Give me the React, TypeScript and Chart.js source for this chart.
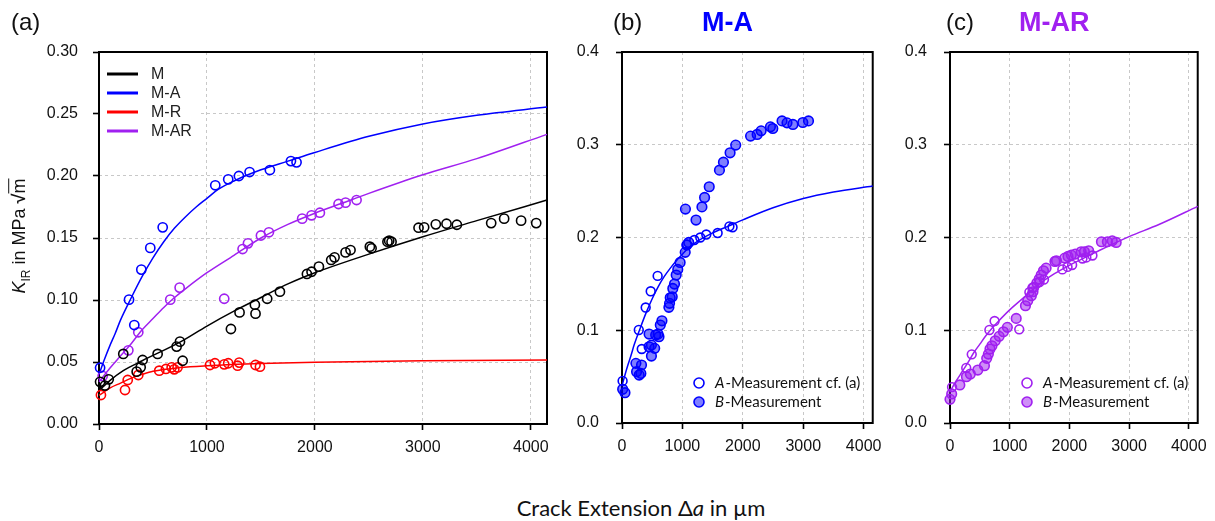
import React, { useEffect, useRef } from "react";
import { Chart, registerables } from "chart.js";
Chart.register(...registerables);

type Pt = [number, number];

// ---------- axes ----------
const X_MAX = 4150;
const X_TICKS = [0, 1000, 2000, 3000, 4000];
const Y_TICKS_A = [0, 0.05, 0.1, 0.15, 0.2, 0.25, 0.3];
const Y_LABELS_A = ["0.00", "0.05", "0.10", "0.15", "0.20", "0.25", "0.30"];
const Y_TICKS_BC = [0, 0.1, 0.2, 0.3, 0.4];
const Y_LABELS_BC = ["0.0", "0.1", "0.2", "0.3", "0.4"];

// ---------- legend / titles ----------
const SERIES_NAMES = ["M", "M-A", "M-R", "M-AR"];
const LEGEND_BC = [
  ["A", "-Measurement cf. (a)"],
  ["B", "-Measurement"],
];

// ---------- A-measurements (panel a) ----------
const M_MEAS: Pt[] = [
  [10, 0.034], [55, 0.031], [90, 0.036], [225, 0.0565], [349, 0.0422], [386, 0.0457],
  [404, 0.0516], [543, 0.0565], [719, 0.0624], [750, 0.0664], [775, 0.051], [1222, 0.0766],
  [1302, 0.09], [1444, 0.0962], [1450, 0.089], [1558, 0.101], [1676, 0.1067], [1926, 0.121],
  [1969, 0.1228], [2037, 0.1269], [2151, 0.1323], [2182, 0.1344], [2284, 0.1384], [2330, 0.1403],
  [2509, 0.143], [2525, 0.1417], [2672, 0.147], [2688, 0.1478], [2710, 0.147], [2960, 0.1583],
  [3012, 0.1586], [3120, 0.161], [3219, 0.1615], [3315, 0.1607], [3633, 0.162], [3753, 0.1656],
  [3910, 0.164], [4050, 0.162],
];
const MA_MEAS: Pt[] = [
  [10, 0.0454], [278, 0.1003], [327, 0.0798], [392, 0.1245], [475, 0.142], [590, 0.1586],
  [1077, 0.1925], [1197, 0.1973], [1296, 0.2], [1395, 0.2032], [1583, 0.2048], [1778, 0.212],
  [1830, 0.211],
];
const MR_MEAS: Pt[] = [
  [18, 0.0234], [241, 0.0274], [266, 0.0355], [364, 0.0395], [558, 0.043], [620, 0.0444],
  [673, 0.0457], [697, 0.0441], [728, 0.0457], [1028, 0.0476], [1074, 0.049], [1160, 0.0481],
  [1197, 0.049], [1284, 0.047], [1299, 0.0495], [1450, 0.0476], [1491, 0.0462],
];
const MAR_MEAS: Pt[] = [
  [34, 0.0387], [272, 0.0594], [364, 0.074], [660, 0.1003], [747, 0.11], [1160, 0.101],
  [1330, 0.1411], [1380, 0.1457], [1500, 0.152], [1574, 0.1546], [1882, 0.1656], [1969, 0.1683],
  [2046, 0.1704], [2219, 0.1774], [2284, 0.1785], [2386, 0.1806],
];

// ---------- B-measurements ----------
const MA_B: Pt[] = [
  [11, 0.0363], [49, 0.0327], [230, 0.0643], [241, 0.0553], [284, 0.0517], [312, 0.0535],
  [323, 0.0625], [448, 0.0822], [487, 0.0722], [541, 0.0805], [557, 0.0948], [448, 0.0959],
  [487, 0.084], [612, 0.093], [596, 0.0959], [634, 0.1056], [661, 0.1102], [776, 0.1247],
  [787, 0.129], [798, 0.135], [831, 0.1361], [841, 0.1451], [869, 0.1498], [897, 0.1595],
  [923, 0.1656], [962, 0.1731], [1046, 0.184], [1072, 0.1918], [1105, 0.1947], [1050, 0.2306],
  [1225, 0.2188], [1323, 0.233], [1367, 0.2432], [1444, 0.2547], [1613, 0.2726], [1679, 0.2812],
  [1789, 0.2913], [1882, 0.2996], [2128, 0.3093], [2237, 0.3111], [2303, 0.315], [2457, 0.3193],
  [2496, 0.3175], [2649, 0.3257], [2731, 0.3236], [2829, 0.3219], [2993, 0.324], [3087, 0.3257],
];
const MAR_B: Pt[] = [
  [0, 0.0255], [28, 0.0313], [165, 0.041], [275, 0.0499], [341, 0.0528], [466, 0.0571],
  [577, 0.0618], [615, 0.0697], [643, 0.0743], [670, 0.0797], [703, 0.0833], [758, 0.0887],
  [824, 0.0934], [895, 0.0984], [961, 0.1031], [1109, 0.1128], [1264, 0.1264], [1302, 0.1318],
  [1363, 0.1372], [1390, 0.1415], [1401, 0.1462], [1455, 0.1509], [1495, 0.1552], [1528, 0.1595],
  [1566, 0.1641], [1610, 0.167], [1758, 0.1742], [1784, 0.1749], [1922, 0.1778], [1977, 0.1796],
  [2032, 0.181], [2098, 0.1821], [2197, 0.1846], [2252, 0.1846], [2323, 0.1857], [2537, 0.1954],
  [2636, 0.1954], [2718, 0.1964], [2784, 0.1947],
];

// ---------- fitted curves ----------
const M_FIT: Pt[] = [
  [0, 0.027], [100, 0.035], [225, 0.043], [400, 0.051], [750, 0.066], [1000, 0.079],
  [1250, 0.091], [1500, 0.102], [1750, 0.113], [2000, 0.122], [2500, 0.137], [3000, 0.151],
  [3500, 0.164], [4150, 0.1806],
];
const MA_FIT: Pt[] = [
  [0, 0.04], [50, 0.052], [100, 0.063], [150, 0.073], [200, 0.084], [300, 0.102], [400, 0.119],
  [500, 0.134], [600, 0.147], [700, 0.158], [800, 0.167], [900, 0.175], [1000, 0.182],
  [1100, 0.189], [1250, 0.196], [1500, 0.205], [1750, 0.212], [2000, 0.219], [2500, 0.232],
  [3000, 0.242], [3500, 0.249], [4150, 0.2556],
];
const MR_FIT: Pt[] = [
  [0, 0.023], [50, 0.026], [100, 0.029], [200, 0.033], [300, 0.037], [400, 0.04], [500, 0.0425],
  [750, 0.0455], [1000, 0.047], [1500, 0.0488], [2000, 0.0498], [3000, 0.051], [4150, 0.0516],
];
const MAR_FIT: Pt[] = [
  [0, 0.034], [100, 0.045], [200, 0.055], [300, 0.065], [400, 0.076], [500, 0.085], [600, 0.094],
  [700, 0.102], [800, 0.109], [1000, 0.122], [1250, 0.136], [1500, 0.15], [1750, 0.161],
  [2000, 0.17], [2250, 0.178], [2500, 0.186], [3000, 0.201], [3500, 0.214], [4150, 0.2336],
];

// ---------- styles ----------
const COLORS = { M: "#000000", MA: "#0000ff", MR: "#ff0000", MAR: "#a020f0" };
const LEGEND_COLORS = [COLORS.M, COLORS.MA, COLORS.MR, COLORS.MAR];
const FILL_MA = "rgba(0,0,255,0.5)";
const FILL_MAR = "rgba(160,32,240,0.5)";
const TICK_FONT = "'Liberation Sans', Arial, sans-serif";
const CM_FONT = "Lato, 'Noto Sans', sans-serif";

const toXY = (pts: Pt[]) => pts.map(([x, y]) => ({ x, y }));

function fitSet(pts: Pt[], color: string) {
  return {
    data: toXY(pts),
    showLine: true,
    borderColor: color,
    borderWidth: 1.5,
    pointRadius: 0,
    cubicInterpolationMode: "monotone",
    fill: false,
    clip: false,
  };
}
function pointSet(pts: Pt[], color: string, fill: string, r = 4.6) {
  return {
    data: toXY(pts),
    showLine: false,
    borderColor: color,
    backgroundColor: fill,
    pointBorderColor: color,
    pointBackgroundColor: fill,
    pointRadius: r,
    pointBorderWidth: 1.6,
    pointStyle: "circle",
    clip: false,
  };
}

function buildScales(yTicks: number[], yLabels: string[], yMax: number, yW: number, xH: number, yPad: number) {
  const grid = {
    color: "#c8c8c8",
    lineWidth: 1,
    tickLength: 6,
    tickColor: "#000",
    tickWidth: 1.6,
    tickBorderDash: [],
  };
  const border = { display: false, dash: [3, 3] };
  return {
    x: {
      type: "linear",
      min: 0,
      max: X_MAX,
      afterBuildTicks: (s: any) => {
        s.ticks = X_TICKS.map((v) => ({ value: v }));
      },
      afterFit: (s: any) => {
        s.height = xH;
      },
      ticks: {
        font: { family: TICK_FONT, size: 16 },
        color: "#111",
        padding: 8,
        maxRotation: 0,
        autoSkip: false,
        callback: (v: any) => String(v),
      },
      grid,
      border,
    },
    y: {
      type: "linear",
      min: 0,
      max: yMax,
      afterBuildTicks: (s: any) => {
        s.ticks = yTicks.map((v) => ({ value: v }));
      },
      afterFit: (s: any) => {
        s.width = yW;
      },
      ticks: {
        font: { family: TICK_FONT, size: 16 },
        color: "#111",
        padding: yPad,
        autoSkip: false,
        callback: (v: any) => {
          const i = yTicks.findIndex((t) => Math.abs(t - v) < 1e-9);
          return i >= 0 ? yLabels[i] : "";
        },
      },
      grid,
      border,
    },
  };
}

const boxPlugin = (legendA: boolean) => ({
  id: "boxPlugin",
  beforeDatasetsDraw(chart: any) {
    const { ctx, chartArea: a } = chart;
    ctx.save();
    if (legendA) {
      ctx.fillStyle = "#fff";
      ctx.fillRect(a.left, a.top, 99, 97);
    }
    ctx.strokeStyle = "#000";
    ctx.lineWidth = 2;
    ctx.strokeRect(a.left, a.top, a.right - a.left, a.bottom - a.top);
    if (legendA) {
      SERIES_NAMES.forEach((n, i) => {
        const y = a.top + 22 + i * 19;
        ctx.strokeStyle = LEGEND_COLORS[i];
        ctx.lineWidth = 3;
        ctx.beginPath();
        ctx.moveTo(a.left + 8, y);
        ctx.lineTo(a.left + 39, y);
        ctx.stroke();
        ctx.fillStyle = "#222";
        ctx.font = `16px ${TICK_FONT}`;
        ctx.textBaseline = "middle";
        ctx.textAlign = "left";
        ctx.fillText(n, a.left + 52, y + 1);
      });
    }
    ctx.restore();
  },
});

const legendBC = (stroke: string, fill: string) => ({
  id: "legendBC",
  afterDatasetsDraw(chart: any) {
    const { ctx, chartArea: a } = chart;
    ctx.save();
    LEGEND_BC.forEach(([ital, rest], i) => {
      const y = a.top + 331 + i * 19;
      const x = a.left + 77;
      ctx.beginPath();
      ctx.arc(x, y, 5, 0, Math.PI * 2);
      ctx.fillStyle = i === 0 ? "#fff" : fill;
      ctx.fill();
      ctx.lineWidth = 1.6;
      ctx.strokeStyle = stroke;
      ctx.stroke();
      ctx.fillStyle = "#111";
      ctx.textBaseline = "middle";
      ctx.textAlign = "left";
      ctx.font = `italic 15px ${CM_FONT}`;
      const tx = a.left + 93;
      ctx.fillText(ital, tx, y);
      const w = ctx.measureText(ital).width;
      ctx.font = `15px ${CM_FONT}`;
      ctx.fillText(rest, tx + w + 1, y);
    });
    ctx.restore();
  },
});

function configA() {
  return {
    type: "scatter",
    data: {
      datasets: [
        pointSet(M_MEAS, COLORS.M, "rgba(0,0,0,0)"),
        pointSet(MA_MEAS, COLORS.MA, "rgba(0,0,0,0)"),
        pointSet(MR_MEAS, COLORS.MR, "rgba(0,0,0,0)"),
        pointSet(MAR_MEAS, COLORS.MAR, "rgba(0,0,0,0)"),
        fitSet(M_FIT, COLORS.M),
        fitSet(MA_FIT, COLORS.MA),
        fitSet(MR_FIT, COLORS.MR),
        fitSet(MAR_FIT, COLORS.MAR),
      ],
    },
    options: {
      responsive: false,
      animation: false,
      layout: { padding: { top: 52, right: 13, left: 0, bottom: 0 } },
      plugins: { legend: { display: false }, tooltip: { enabled: false } },
      scales: buildScales(Y_TICKS_A, Y_LABELS_A, 0.3, 99, 46, 15),
    },
    plugins: [boxPlugin(true)],
  };
}

function configBC(meas: Pt[], b: Pt[], fit: Pt[], color: string, fill: string, yW: number, rightPad: number) {
  return {
    type: "scatter",
    data: {
      datasets: [
        pointSet(b, color, fill, 4.8),
        pointSet(meas, color, "rgba(255,255,255,0)", 4.4),
        fitSet(fit, color),
      ],
    },
    options: {
      responsive: false,
      animation: false,
      layout: { padding: { top: 52, right: rightPad, left: 0, bottom: 0 } },
      plugins: { legend: { display: false }, tooltip: { enabled: false } },
      scales: buildScales(Y_TICKS_BC, Y_LABELS_BC, 0.4, yW, 47, 17),
    },
    plugins: [boxPlugin(false), legendBC(color, fill)],
  };
}

function ChartCanvas({ left, width, height, make }: { left: number; width: number; height: number; make: () => any }) {
  const ref = useRef<HTMLCanvasElement>(null);
  useEffect(() => {
    const chart = new Chart(ref.current as HTMLCanvasElement, make());
    return () => chart.destroy();
  }, []);
  return (
    <canvas
      ref={ref}
      width={width}
      height={height}
      style={{ position: "absolute", left, top: 0, width, height }}
    />
  );
}

const labelStyle: React.CSSProperties = {
  position: "absolute",
  fontFamily: TICK_FONT,
  fontSize: 24,
  lineHeight: "24px",
  color: "#111",
  whiteSpace: "nowrap",
};

export default function App() {
  return (
    <div
      style={{
        position: "absolute",
        left: 0,
        top: 0,
        width: 1215,
        height: 521,
        background: "#fff",
        overflow: "hidden",
      }}
    >
      <ChartCanvas left={0} width={560} height={470} make={configA} />
      <ChartCanvas
        left={560}
        width={330}
        height={470}
        make={() => configBC(MA_MEAS, MA_B, MA_FIT, COLORS.MA, FILL_MA, 62, 15)}
      />
      <ChartCanvas
        left={890}
        width={325}
        height={470}
        make={() => configBC(MAR_MEAS, MAR_B, MAR_FIT, COLORS.MAR, FILL_MAR, 60, 12)}
      />

      <div style={{ ...labelStyle, left: 11, top: 10 }}>(a)</div>
      <div style={{ ...labelStyle, left: 613, top: 10 }}>(b)</div>
      <div style={{ ...labelStyle, left: 946, top: 10 }}>(c)</div>
      <div style={{ ...labelStyle, left: 702, top: 9, fontSize: 27, lineHeight: "27px", fontWeight: 700, color: COLORS.MA }}>
        M-A
      </div>
      <div style={{ ...labelStyle, left: 1019, top: 9, fontSize: 27, lineHeight: "27px", fontWeight: 700, color: COLORS.MAR }}>
        M-AR
      </div>

      <div
        style={{
          position: "absolute",
          left: 21,
          top: 236,
          transform: "translate(-50%, -50%) rotate(-90deg)",
          fontFamily: TICK_FONT,
          fontSize: 18,
          color: "#111",
          whiteSpace: "nowrap",
        }}
      >
        <i>K</i>
        <sub style={{ fontSize: 12 }}>IR</sub> in MPa{" "}
        <span style={{ fontWeight: 700 }}>√</span>
        <span style={{ borderTop: "1.5px solid #111", paddingTop: 0 }}>m</span>
      </div>

      <div
        style={{
          position: "absolute",
          left: 641,
          top: 494,
          transform: "translateX(-50%)",
          fontFamily: CM_FONT,
          fontSize: 22,
          color: "#111",
          whiteSpace: "nowrap",
        }}
      >
        Crack Extension Δ<i>a</i> in µm
      </div>
    </div>
  );
}
